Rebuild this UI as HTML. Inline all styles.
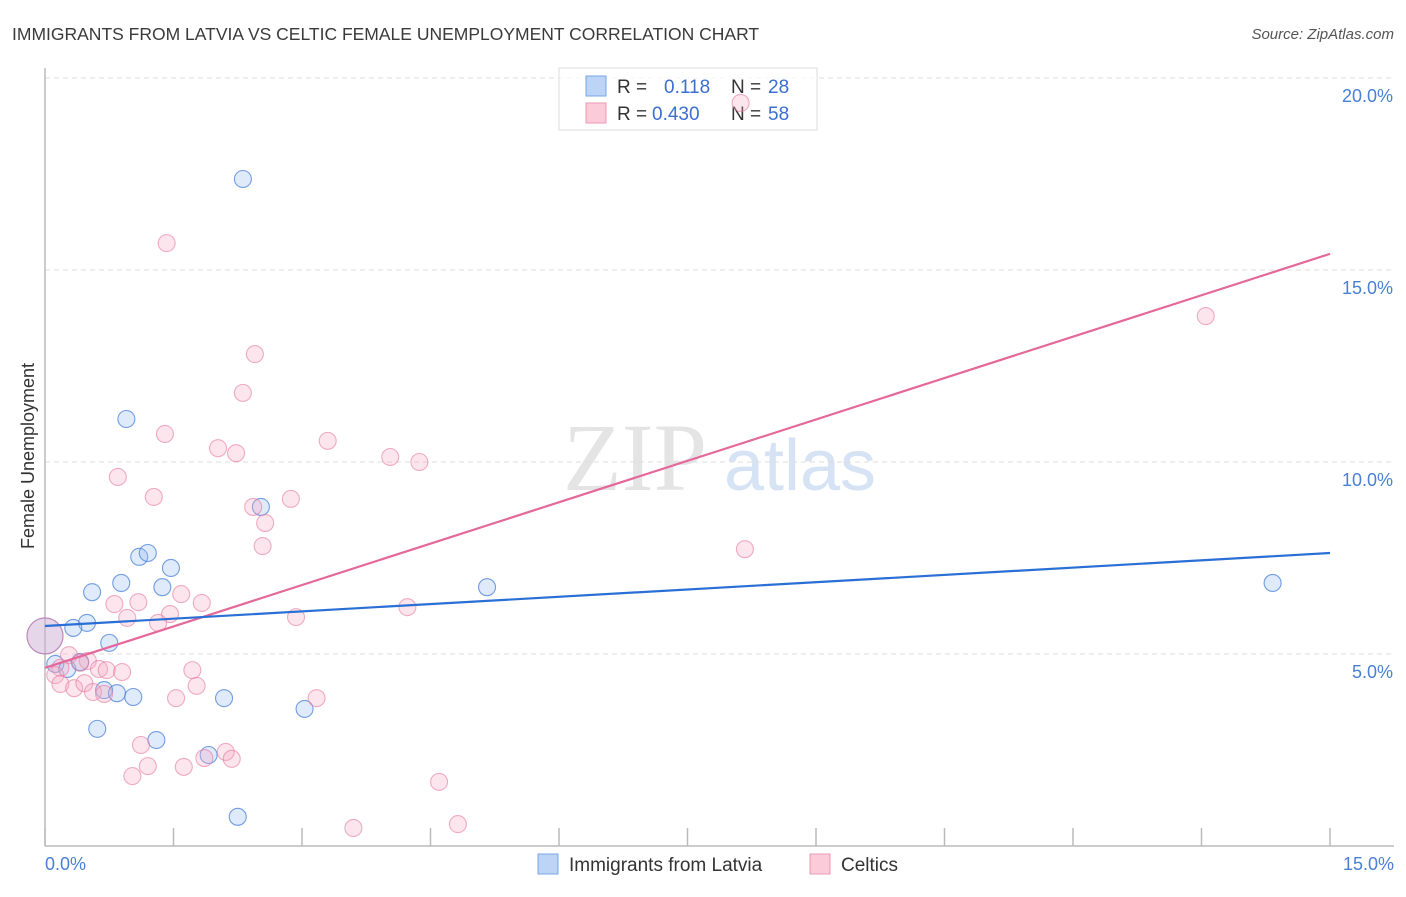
<!DOCTYPE html>
<html><head><meta charset="utf-8"><style>
body{margin:0;background:#fff;font-family:"Liberation Sans",sans-serif;}
</style></head><body>
<svg width="1406" height="892" xmlns="http://www.w3.org/2000/svg" font-family="Liberation Sans, sans-serif">
<text x="12" y="40" font-size="17.5" fill="#3a3a3a">IMMIGRANTS FROM LATVIA VS CELTIC FEMALE UNEMPLOYMENT CORRELATION CHART</text>
<text x="1394" y="39" font-size="15" fill="#555" font-style="italic" text-anchor="end">Source: ZipAtlas.com</text>
<g><text x="635" y="490" font-size="96" font-family="Liberation Serif, serif" fill="#e4e4e4" text-anchor="middle">ZIP</text><text x="800" y="490" font-size="72" fill="#d6e3f5" text-anchor="middle">atlas</text></g>
<g id="grid"></g><g id="axes"></g>
<g>
<rect x="559" y="68" width="258" height="62" fill="#fff" fill-opacity="0.7" stroke="#ddd"/>
<rect x="586" y="76" width="20" height="20" fill="#bcd4f6" stroke="#7aa6e6"/>
<rect x="586" y="103" width="20" height="20" fill="#fbcbd9" stroke="#ee9ab5"/>
<text y="93" font-size="19" fill="#333"><tspan x="617">R =</tspan><tspan x="664" fill="#3a6fd0">0.118</tspan><tspan x="731">N =</tspan><tspan x="768" fill="#3a6fd0">28</tspan></text>
<text y="120" font-size="19" fill="#333"><tspan x="617">R =</tspan><tspan x="652" fill="#3a6fd0">0.430</tspan><tspan x="731">N =</tspan><tspan x="768" fill="#3a6fd0">58</tspan></text>
</g>
<g id="marks"></g>
<text transform="translate(34,456) rotate(-90)" font-size="18" fill="#333" text-anchor="middle">Female Unemployment</text>
<text x="45" y="870" font-size="18" fill="#4a7fd6">0.0%</text>
<text x="1394" y="870" font-size="18" fill="#4a7fd6" text-anchor="end">15.0%</text>
<g>
<rect x="538" y="854" width="20" height="20" fill="#bcd4f6" stroke="#7aa6e6"/>
<text x="569" y="871" font-size="19" fill="#333">Immigrants from Latvia</text>
<rect x="810" y="854" width="20" height="20" fill="#fbcbd9" stroke="#ee9ab5"/>
<text x="841" y="871" font-size="19" fill="#333">Celtics</text>
</g>
</svg>
<script>
const yTicks=[5,10,15,20];
const yTickLabels=["5.0%","10.0%","15.0%","20.0%"];
const latviaX=[2.31,0.95,2.52,1.10,1.20,1.47,1.37,0.89,0.55,0.49,0.33,0.75,0.12,0.26,0.41,0.69,0.84,1.03,2.09,3.03,0.61,1.30,1.91,2.25,5.16,14.33,0.0];
const latviaY=[17.37,11.12,8.83,7.53,7.63,7.24,6.74,6.85,6.61,5.81,5.68,5.29,4.74,4.61,4.79,4.06,3.98,3.88,3.85,3.57,3.05,2.76,2.37,0.76,6.74,6.85,5.47];
const celticX=[1.42,8.12,13.55,2.45,2.31,1.40,3.30,2.02,2.23,4.03,4.37,0.85,1.27,2.87,2.43,2.57,2.54,8.17,1.59,0.81,1.09,1.83,1.46,0.96,1.32,4.23,2.93,0.28,0.50,0.63,0.72,0.90,0.41,0.18,0.12,0.18,0.34,0.46,0.56,0.69,1.72,1.77,1.53,3.17,1.12,2.11,2.18,1.86,1.20,1.62,1.02,4.60,3.60,4.82,0.0];
const celticY=[15.70,19.35,13.80,12.81,11.80,10.73,10.55,10.36,10.23,10.13,10.00,9.61,9.09,9.04,8.83,8.41,7.81,7.73,6.56,6.30,6.35,6.33,6.04,5.94,5.81,6.22,5.96,4.97,4.82,4.61,4.58,4.53,4.77,4.64,4.45,4.22,4.11,4.24,4.01,3.96,4.58,4.17,3.85,3.85,2.63,2.45,2.27,2.29,2.08,2.06,1.82,1.67,0.47,0.57,5.47];
const trendLatvia=[5.73,7.63];
const trendCeltic=[4.64,15.42];
const NS="http://www.w3.org/2000/svg";
const X0=45,X1=1330,Y0=846,PPY=38.4;
const sx=v=>X0+v/15*(X1-X0), sy=v=>Y0-v*PPY;
function mk(p,t,a){const e=document.createElementNS(NS,t);for(const k in a)e.setAttribute(k,a[k]);p.appendChild(e);return e;}
const grid=document.getElementById('grid'),axes=document.getElementById('axes'),marks=document.getElementById('marks');
yTicks.forEach((t,i)=>{
 const l=mk(grid,'line',{x1:X0,x2:1394,y1:sy(t),y2:sy(t),stroke:'#dcdcdc','stroke-dasharray':'5,4'});
 
 
 const tx=mk(grid,'text',{x:1393,y:sy(t)+24,'font-size':18,fill:'#4a7fd6','text-anchor':'end'});
 tx.textContent=yTickLabels[i];
 
 
});
const ya=mk(axes,'line',{x1:X0,x2:X0,y1:68,y2:Y0,stroke:'#bbb','stroke-width':1.5});


const xa=mk(axes,'line',{x1:X0,x2:1394,y1:Y0,y2:Y0,stroke:'#bbb','stroke-width':1.5});


for(let i=0;i<=10;i++){const v=i*1.5;const t=mk(axes,'line',{x1:sx(v),x2:sx(v),y1:828,y2:Y0,stroke:'#bbb','stroke-width':1.5});
 
 }
function dot(x,y,big,fill,stroke,name){const c=mk(marks,'circle',{cx:sx(x),cy:sy(y),r:big?18:8.5,fill:fill,stroke:stroke,'stroke-width':1.1});
 
 }
latviaX.forEach((x,i)=>dot(x,latviaY[i],i===latviaX.length-1,'rgba(150,185,240,0.3)','rgba(60,120,215,0.7)','latvia-point'));
celticX.forEach((x,i)=>dot(x,celticY[i],i===celticX.length-1,'rgba(246,170,195,0.3)','rgba(232,120,160,0.6)','celtic-point'));
const t1=mk(marks,'line',{x1:sx(0),x2:sx(15),y1:sy(trendCeltic[0]),y2:sy(trendCeltic[1]),stroke:'#e4689a','stroke-width':2.2});


const t2=mk(marks,'line',{x1:sx(0),x2:sx(15),y1:sy(trendLatvia[0]),y2:sy(trendLatvia[1]),stroke:'#2a6fd6','stroke-width':2.2});


</script>
</body></html>
